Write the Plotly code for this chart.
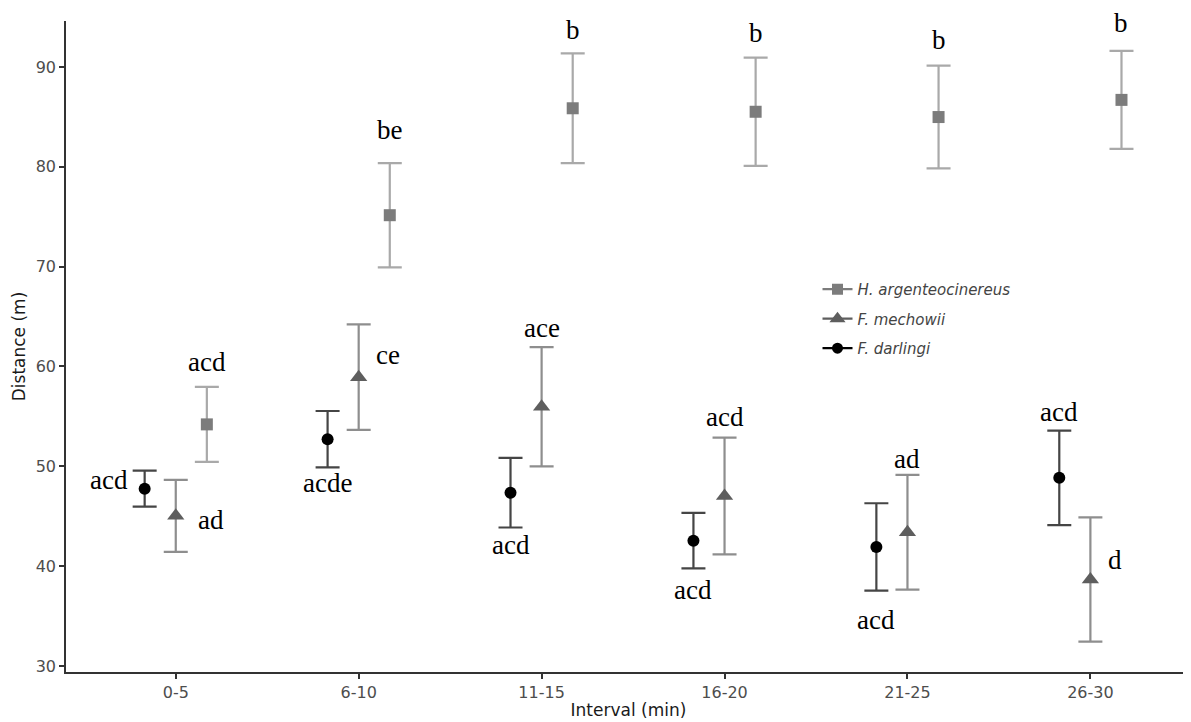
import plotly.graph_objects as go
import numpy as np

# ---------------- data ----------------
intervals = ["0-5", "6-10", "11-15", "16-20", "21-25", "26-30"]
species = ["H. argenteocinereus", "F. mechowii", "F. darlingi"]

h_mean = [54.2, 75.15, 85.86, 85.51, 84.98, 86.7]
h_err = [3.75, 5.22, 5.5, 5.42, 5.15, 4.9]
m_mean = [45.04, 58.93, 55.97, 47.03, 43.4, 38.67]
m_err = [3.6, 5.29, 5.97, 5.85, 5.75, 6.22]
d_mean = [47.76, 52.72, 47.36, 42.55, 41.92, 48.85]
d_err = [1.8, 2.82, 3.49, 2.78, 4.38, 4.73]

h_letters = ["acd", "be", "b", "b", "b", "b"]
m_letters = ["ad", "ce", "ace", "acd", "ad", "d"]
d_letters = ["acd", "acde", "acd", "acd", "acd", "acd"]

# ---------------- styling ----------------
dodge = {"H. argenteocinereus": 0.17, "F. mechowii": 0.0, "F. darlingi": -0.17}
style = {
    "H. argenteocinereus": dict(symbol="square", size=12, color="#7c7c7c", err="#a9a9a9"),
    "F. mechowii": dict(symbol="triangle-up", size=15, color="#5e5e5e", err="#8e8e8e"),
    "F. darlingi": dict(symbol="circle", size=12, color="#000000", err="#454545"),
}
series = {
    "H. argenteocinereus": (h_mean, h_err, h_letters),
    "F. mechowii": (m_mean, m_err, m_letters),
    "F. darlingi": (d_mean, d_err, d_letters),
}
# label placement per series/interval: (where, xshift, yshift)
placement = {
    "H. argenteocinereus": [("above", 0, 25), ("above", 0, 33), ("above", 0, 23),
                            ("above", 0, 25), ("above", 0, 26), ("above", 0, 28)],
    "F. mechowii": [("right", 20, -4), ("right", 15, 22), ("above", 0, 19),
                    ("above", 0, 21), ("above", 0, 16), ("right", 16, 19)],
    "F. darlingi": [("left", -15, 9), ("below", 0, -16), ("below", 0, -17),
                    ("below", 0, -22), ("below", 0, -29), ("above", 0, 19)],
}

idx = np.arange(len(intervals))
fig = go.Figure()

for sp in species:
    mean, err, _ = series[sp]
    st = style[sp]
    fig.add_trace(go.Scatter(
        x=idx + dodge[sp], y=mean, mode="markers", showlegend=False,
        marker=dict(symbol=st["symbol"], size=st["size"], color=st["color"]),
        error_y=dict(type="data", array=err, visible=True, width=12,
                     thickness=2.2, color=st["err"]),
        cliponaxis=False,
    ))

# legend-only entries
for sp in species:
    st = style[sp]
    fig.add_trace(go.Scatter(
        x=[None], y=[None], mode="lines+markers", name="<i>" + sp + "</i>",
        legendgroup=sp,
        marker=dict(symbol=st["symbol"], size=st["size"] - 1, color=st["color"]),
        line=dict(color=st["color"], width=2.2),
    ))

annots = []
for sp in species:
    mean, err, letters = series[sp]
    for i, txt in enumerate(letters):
        where, dx, dy = placement[sp][i]
        x = idx[i] + dodge[sp]
        if where == "above":
            y, xa = mean[i] + err[i], "center"
        elif where == "below":
            y, xa = mean[i] - err[i], "center"
        elif where == "right":
            y, xa = mean[i], "left"
        else:
            y, xa = mean[i], "right"
        annots.append(dict(
            x=x, y=y, xref="x", yref="y", text=txt, showarrow=False,
            xanchor=xa, yanchor="middle", xshift=dx, yshift=dy,
            font=dict(family="Liberation Serif", size=27, color="#000000"),
        ))

# the page body adds an 8px offset; size/margins compensate for it
fig.update_layout(
    width=1183, height=714,
    margin=dict(l=58, r=0, t=13, b=50),
    paper_bgcolor="white", plot_bgcolor="white",
    font=dict(family="DejaVu Sans", color="#4d4d4d"),
    annotations=annots,
    legend=dict(
        x=0.668, y=0.613, xanchor="left", yanchor="top",
        font=dict(family="DejaVu Sans", size=15, color="#444444"),
        bgcolor="rgba(0,0,0,0)", tracegroupgap=7, traceorder="grouped",
    ),
    xaxis=dict(
        range=[-0.6, 5.55], tickmode="array", tickvals=idx, ticktext=intervals,
        showgrid=False, zeroline=False, showline=True, linecolor="#333333",
        linewidth=1.5, ticks="outside", ticklen=5, tickwidth=1.5, tickcolor="#333333",
        tickfont=dict(family="DejaVu Sans", size=16, color="#4d4d4d"),
        automargin=False,
        title=dict(text="Interval (min)", standoff=3,
                   font=dict(family="DejaVu Sans", size=17, color="#1a1a1a")),
    ),
    yaxis=dict(
        range=[29.4, 94.6], tickmode="array", tickvals=[30, 40, 50, 60, 70, 80, 90],
        showgrid=False, zeroline=False, showline=True, linecolor="#333333",
        linewidth=1.5, ticks="outside", ticklen=5, tickwidth=1.5, tickcolor="#333333",
        tickfont=dict(family="DejaVu Sans", size=16, color="#4d4d4d"),
        automargin=False,
        title=dict(text="Distance (m)", standoff=6,
                   font=dict(family="DejaVu Sans", size=17, color="#1a1a1a")),
    ),
)

fig.write_html("out.html")
